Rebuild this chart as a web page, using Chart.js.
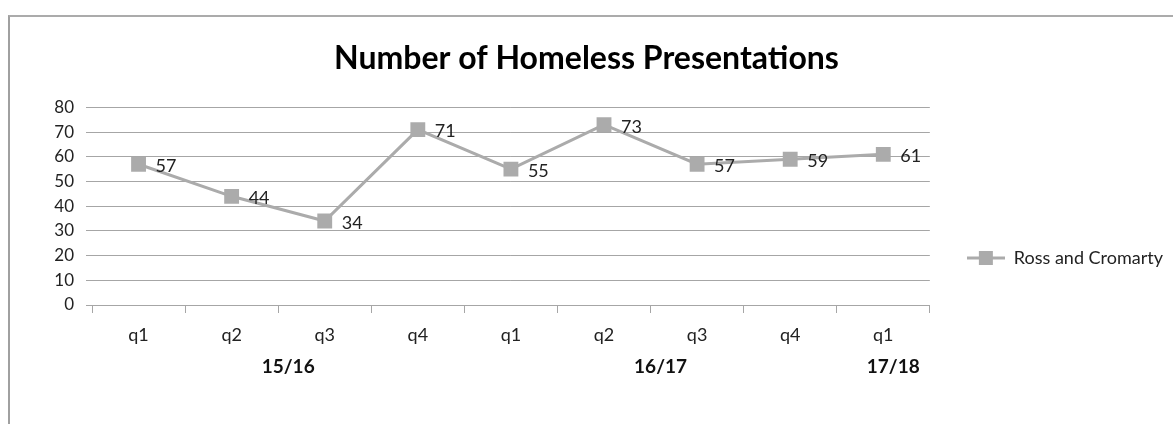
<!DOCTYPE html>
<html>
<head>
<meta charset="utf-8">
<script src="https://cdn.jsdelivr.net/npm/chart.js@4"></script>
<style>
  body { margin: 0; background: #fff; }
  #frame {
    position: absolute;
    left: 8px;
    top: 15px;
    width: 1200px;
    height: 440px;
    border-top: 2px solid #ababab;
    border-left: 2px solid #a0a0a0;
  }
  #main-chart { position: absolute; left: 0; top: 0; }
</style>
</head>
<body>
<div id="frame"></div>
<canvas id="main-chart" width="1173" height="424"></canvas>
<script>
const quarters = ['q1', 'q2', 'q3', 'q4', 'q1', 'q2', 'q3', 'q4', 'q1'];
const presentations = [57, 44, 34, 71, 55, 73, 57, 59, 61];
const yearLabels = ['15/16', '16/17', '17/18'];
const yearFirst = [0, 4, 8];
const yearLast = [3, 7, 8];
const yTicks = [0, 10, 20, 30, 40, 50, 60, 70, 80];

const fontFamily = 'Lato, "Open Sans", sans-serif';
const grey = '#ababab';

// legend marker: short line with a square on it
function makeLegendMarker() {
  const c = document.createElement('canvas');
  c.width = 38;
  c.height = 16;
  const g = c.getContext('2d');
  g.strokeStyle = grey;
  g.lineWidth = 3;
  g.beginPath();
  g.moveTo(0, 8);
  g.lineTo(38, 8);
  g.stroke();
  g.fillStyle = grey;
  g.fillRect(12, 1, 14, 14);
  return c;
}

const labelsPlugin = {
  id: 'extraLabels',
  afterDatasetsDraw(chart) {
    const ctx = chart.ctx;
    const meta = chart.getDatasetMeta(0);
    ctx.save();
    ctx.font = '18px ' + fontFamily;
    ctx.fillStyle = '#222';
    ctx.textAlign = 'left';
    ctx.textBaseline = 'middle';
    meta.data.forEach((pt, i) => {
      ctx.fillText(String(presentations[i]), pt.x + 17, pt.y + 2);
    });
    ctx.restore();
  },
  afterDraw(chart) {
    const ctx = chart.ctx;
    const x = chart.scales.x;
    ctx.save();
    ctx.font = 'bold 19px ' + fontFamily;
    ctx.fillStyle = '#111';
    ctx.textAlign = 'center';
    ctx.textBaseline = 'middle';
    yearLabels.forEach((lbl, i) => {
      const mid = (x.getPixelForValue(yearFirst[i]) + x.getPixelForValue(yearLast[i])) / 2;
      ctx.fillText(lbl, mid + 10, x.top + 62);
    });
    ctx.restore();
  },
};

function setupMainChart() {
  const ctx = document.getElementById('main-chart').getContext('2d');
  return new Chart(ctx, {
    type: 'line',
    data: {
      labels: quarters,
      datasets: [
        {
          label: 'Ross and Cromarty',
          data: presentations,
          borderColor: grey,
          borderWidth: 3,
          backgroundColor: grey,
          pointStyle: 'rect',
          pointRadius: 10.5,
          pointBorderWidth: 0,
          pointBackgroundColor: grey,
          tension: 0,
        },
      ],
    },
    options: {
      responsive: false,
      animation: false,
      devicePixelRatio: 1,
      layout: { padding: 0 },
      scales: {
        x: {
          offset: true,
          grid: {
            offset: true,
            drawOnChartArea: false,
            drawTicks: true,
            tickLength: 8,
            color: '#a6a6a6',
          },
          border: { display: true, color: '#a6a6a6', width: 1 },
          ticks: {
            padding: 11,
            color: '#222',
            font: { family: fontFamily, size: 18 },
            maxRotation: 0,
            autoSkip: false,
          },
          afterFit(scale) {
            scale.height = 119;
          },
        },
        y: {
          min: 0,
          max: 80,
          afterBuildTicks(scale) {
            scale.ticks = yTicks.map((v) => ({ value: v }));
          },
          grid: {
            color: '#a6a6a6',
            drawTicks: true,
            tickLength: 6,
          },
          border: { display: false },
          ticks: {
            padding: 12,
            color: '#222',
            font: { family: fontFamily, size: 17 },
          },
          afterFit(scale) {
            scale.width = 92;
          },
        },
      },
      plugins: {
        title: {
          display: true,
          text: 'Number of Homeless Presentations',
          color: '#000',
          font: { family: fontFamily, size: 32, weight: 'bold', lineHeight: 1.2 },
          padding: { top: 39, bottom: 30 },
        },
        legend: {
          display: true,
          position: 'right',
          align: 'center',
          title: {
            display: true,
            text: ' ',
            font: { size: 10, lineHeight: 1.2 },
            padding: { top: 80, bottom: 0 },
          },
          labels: {
            usePointStyle: true,
            pointStyle: makeLegendMarker(),
            pointStyleWidth: 38,
            padding: 37,
            color: '#222',
            font: { family: fontFamily, size: 18 },
          },
        },
        tooltip: { enabled: false },
      },
    },
    plugins: [labelsPlugin],
  });
}

setupMainChart();
</script>
</body>
</html>
